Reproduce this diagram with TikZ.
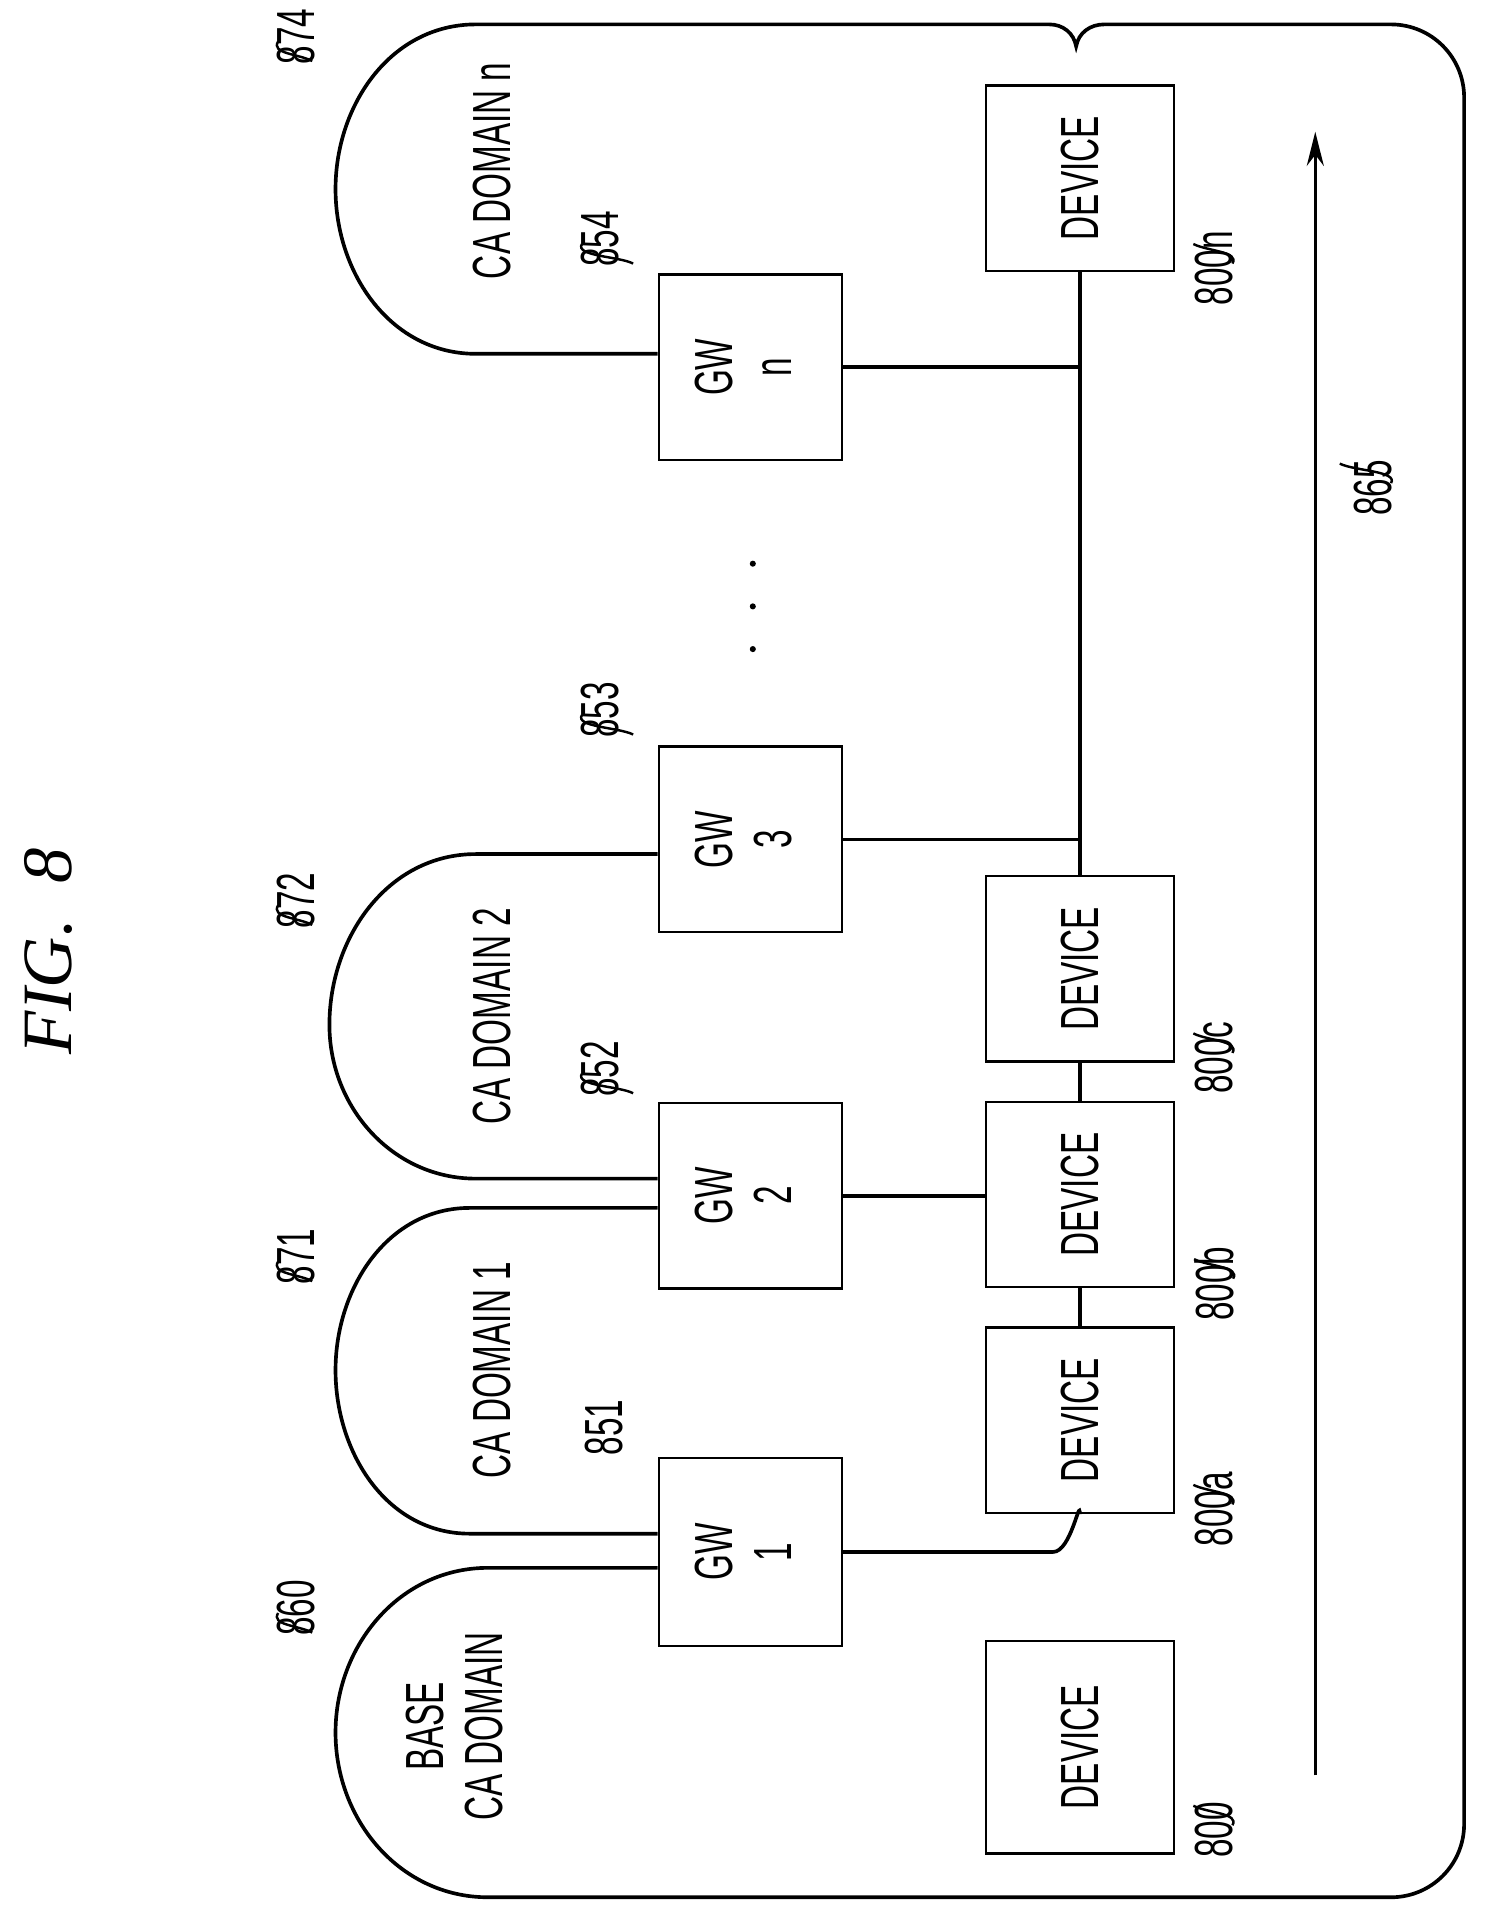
\documentclass[tikz,border=0pt]{standalone}
\usepackage{fontspec}
\setmainfont{Liberation Sans}
\newfontfamily\figfont{Liberation Serif}
\usetikzlibrary{calc, arrows.meta}
\newcommand{\rt}[1]{\rotatebox{90}{\scalebox{0.62}[1]{#1}}}
\newcommand{\rts}[2]{\rotatebox{90}{\scalebox{0.62}[1]{\begin{tabular}{@{}c@{}}#1\\#2\end{tabular}}}}
\tikzset{
  box/.style={draw, line width=1pt, inner sep=0pt, minimum width=75pt, minimum height=76pt},
  num/.style={inner sep=1pt, font=\fontsize{22}{24}\selectfont},
  lead/.style={line width=1pt},
  every node/.append style={font=\fontsize{22}{24}\selectfont}
}
\begin{document}
\begin{tikzpicture}[x=0.5pt, y=-0.5pt, line width=1.5pt]
  \useasboundingbox (0,0) rectangle (1225,1572);
  \node at (40,780) {\rotatebox{90}{\figfont\itshape\fontsize{29}{30}\selectfont FIG.\ \ 8}};
  % gateways and devices
  \node[box, minimum height=77pt] (gw1) at (615,1272) {\rts{GW}{1}};
  \node[box] (gw2) at (615,980) {\rts{GW}{2}};
  \node[box] (gw3) at (615,688) {\rts{GW}{3}};
  \node[box] (gwn) at (615,301) {\rts{GW}{n}};
  \node[box, minimum height=87pt, minimum width=77pt] (dev) at (885,1432) {\rt{DEVICE}};
  \node[box, minimum width=77pt] (deva) at (885,1164) {\rt{DEVICE}};
  \node[box, minimum width=77pt] (devb) at (885,979) {\rt{DEVICE}};
  \node[box, minimum width=77pt] (devc) at (885,794) {\rt{DEVICE}};
  \node[box, minimum width=77pt] (devn) at (885,146) {\rt{DEVICE}};
  % bus
  \coordinate (b3) at (gw3.east -| devc.north);
  \coordinate (bn) at (gwn.east -| devn.south);
  \draw (devc.north) -- (devn.south);
  \draw (gw3.east) -- (b3);
  \draw (gwn.east) -- (bn);
  \draw (gw2.east) -- (gw2.east -| devb.west);
  \draw (deva.north) -- (devb.south);
  \draw (devb.north) -- (devc.south);
  \draw (gw1.east) -- ($(gw1.east -| deva.south)+(-22,0)$) to[out=0,in=90] (deva.south);
  % domains
  \draw (gw1.west |- 0,1285) -- (400,1285) to[out=180,in=90] (275,1420) to[out=-90,in=180] (400,1555)
        -- (1140,1555) to[out=0,in=-90] (1200,1495) -- (1200,80) to[out=90,in=0] (1140,20)
        -- (905,20) to[out=180,in=80] (882,38) to[out=100,in=0] (860,20)
        -- (390,20) to[out=180,in=90] (275,155) to[out=-90,in=180] (390,290) -- (gwn.west |- 0,290);
  \draw (gw1.west |- 0,1257) -- (385,1257) to[out=180,in=-90] (275,1123) to[out=90,in=180] (385,990) -- (gw2.west |- 0,990);
  \draw (gw2.west |- 0,966) -- (390,966) to[out=180,in=-90] (270,840) to[out=90,in=180] (390,700) -- (gw3.west |- 0,700);
  \node at (403,1123) {\rt{CA DOMAIN 1}};
  \node at (403,833) {\rt{CA DOMAIN 2}};
  \node at (403,140) {\rt{CA DOMAIN n}};
  \node at (378,1415) {\rts{BASE}{CA DOMAIN}};
  % dots
  \foreach \y in {462,497,532} \fill (617,\y) circle (2.5);
  % arrow
  \draw[-{Stealth[length=14pt,width=7pt]}, line width=1.2pt] (1078,1455) -- (1078,108);
  % reference numerals
  \node[num] (l860) at (243,1318) {\rt{860}};
  \node[num] (l871) at (243,1030) {\rt{871}};
  \node[num] (l872) at (243,738) {\rt{872}};
  \node[num] (l874) at (243,30) {\rt{874}};
  \node[num] (l851) at (495,1170) {\rt{851}};
  \node[num] (l852) at (492,876) {\rt{852}};
  \node[num] (l853) at (492,582) {\rt{853}};
  \node[num] (l854) at (492,196) {\rt{854}};
  \node[num] (l800) at (995,1500) {\rt{800}};
  \node[num] (l800a) at (995,1237) {\rt{800a}};
  \node[num] (l800b) at (995,1052) {\rt{800b}};
  \node[num] (l800c) at (995,867) {\rt{800c}};
  \node[num] (l800n) at (995,220) {\rt{800n}};
  \node[num] (l865) at (1125,400) {\rt{865}};
  \foreach \l/\dx in {l860/28, l871/28, l872/28, l874/28, l852/42, l853/42, l854/42}
    \draw[lead] (\l.west) ++(4,4) .. controls +(-6,10) and +(-12,-6) .. ++(\dx,16);
  \foreach \l/\dx in {l800/-32, l800a/-32, l800b/-32, l800c/-32, l800n/-32, l865/-42}
    \draw[lead] (\l.east) ++(-4,-4) .. controls +(6,-10) and +(12,6) .. ++(\dx,-16);
\end{tikzpicture}
\end{document}
